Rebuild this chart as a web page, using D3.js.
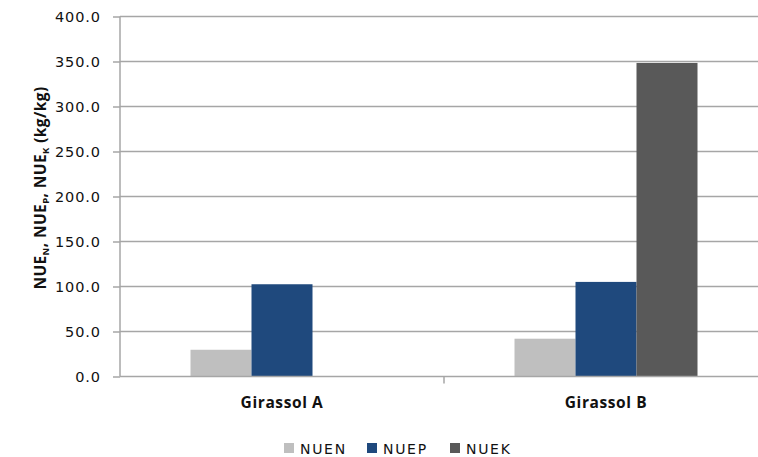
<!DOCTYPE html>
<html>
<head>
<meta charset="utf-8">
<script src="https://cdn.jsdelivr.net/npm/d3@7"></script>
<style>
  html, body { margin: 0; padding: 0; background: #fff; }
  svg { display: block; }
</style>
</head>
<body>
<svg id="chart" width="758" height="457"></svg>
<script>
// Nutrient use efficiency by sunflower hybrid
const categories = ["Girassol A", "Girassol B"];
const seriesNames = ["NUEN", "NUEP", "NUEK"];
const NUEN = [29.7, 42.0];
const NUEP = [102.5, 105.1];
const NUEK = [0, 348.4];
const yTicks = [0, 50, 100, 150, 200, 250, 300, 350, 400];
const colors = ["#BFBFBF", "#1F497D", "#595959"];

const seriesValues = [NUEN, NUEP, NUEK];
const svg = d3.select("#chart");

const plotLeft = 120, plotRight = 768, plotTop = 16.5, plotBottom = 376.5;

const y = d3.scaleLinear().domain([0, 400]).range([plotBottom, plotTop]);
const x0 = d3.scaleBand().domain(categories).range([plotLeft, plotRight]).padding(0);
const groupW = 183;
const x1 = d3.scaleBand().domain(seriesNames).range([0, groupW]).padding(0);
const groupOffset = (x0.bandwidth() - groupW) / 2;

// horizontal gridlines
svg.append("g")
  .selectAll("line")
  .data(yTicks.filter(d => d > 0))
  .join("line")
  .attr("x1", plotLeft).attr("x2", 758)
  .attr("y1", d => y(d)).attr("y2", d => y(d))
  .attr("stroke", "#a6a6a6").attr("stroke-width", 1.5);

// bars
const rows = [];
categories.forEach((c, i) => {
  seriesNames.forEach((s, j) => {
    rows.push({ cat: c, series: s, value: seriesValues[j][i], color: colors[j] });
  });
});
svg.append("g")
  .selectAll("rect")
  .data(rows.filter(d => d.value > 0))
  .join("rect")
  .attr("x", d => x0(d.cat) + groupOffset + x1(d.series))
  .attr("width", x1.bandwidth())
  .attr("y", d => y(d.value))
  .attr("height", d => y(0) - y(d.value))
  .attr("fill", d => d.color);

// y axis
const yAxis = d3.axisLeft(y).tickValues(yTicks).tickFormat(d3.format(".1f")).tickSize(7).tickPadding(12);
const gy = svg.append("g").attr("transform", `translate(${plotLeft},0)`).call(yAxis);
gy.select(".domain").attr("stroke", "#a6a6a6").attr("stroke-width", 1.5).attr("d", `M0,${plotTop}V${plotBottom}`);
gy.selectAll(".tick line").attr("stroke", "#a6a6a6").attr("stroke-width", 1.5);
gy.selectAll(".tick text")
  .attr("font-family", "DejaVu Sans, Verdana, sans-serif")
  .attr("font-size", 14.5)
  .attr("letter-spacing", 0.9)
  .attr("fill", "#111");

// x axis
const xAxis = d3.axisBottom(x0).tickSize(0).tickPadding(20);
const gx = svg.append("g").attr("transform", `translate(0,${plotBottom})`).call(xAxis);
gx.select(".domain").attr("stroke", "#a6a6a6").attr("stroke-width", 1.5).attr("d", `M${plotLeft},0H758`);
gx.selectAll(".tick text")
  .attr("font-family", "Open Sans, sans-serif")
  .attr("font-weight", "bold")
  .attr("font-size", 15.5)
  .attr("letter-spacing", 0.6)
  .attr("fill", "#111");
// category separator tick between groups
gx.append("line")
  .attr("x1", x0(categories[1])).attr("x2", x0(categories[1]))
  .attr("y1", 0).attr("y2", 7)
  .attr("stroke", "#a6a6a6").attr("stroke-width", 1.5);

// y axis title with subscripts
const title = svg.append("text")
  .attr("transform", "translate(46,188) rotate(-90)")
  .attr("text-anchor", "middle")
  .attr("font-family", "Open Sans, sans-serif")
  .attr("font-weight", "bold")
  .attr("font-size", 15.5)
  .attr("letter-spacing", 0.4)
  .attr("fill", "#111");
const parts = [["NUE", null], ["N", "sub"], [", NUE", null], ["P", "sub"], [", NUE", null], ["K", "sub"], [" (kg/kg)", null]];
parts.forEach(([t, kind]) => {
  const ts = title.append("tspan").text(t);
  if (kind === "sub") ts.attr("font-size", 9.5).attr("baseline-shift", "-3");
});

// legend
const legend = svg.append("g");
const legendX = [284, 367, 450];
seriesNames.forEach((s, j) => {
  legend.append("rect")
    .attr("x", legendX[j]).attr("y", 443).attr("width", 10).attr("height", 10)
    .attr("fill", colors[j]);
  legend.append("text")
    .attr("x", legendX[j] + 16).attr("y", 453.5)
    .attr("font-family", "DejaVu Sans, Verdana, sans-serif")
    .attr("font-size", 14)
    .attr("letter-spacing", 1.7)
    .attr("fill", "#111")
    .text(s);
});
</script>
</body>
</html>
